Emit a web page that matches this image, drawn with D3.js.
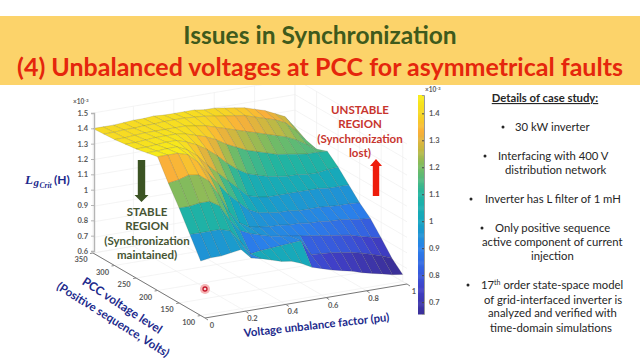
<!DOCTYPE html>
<html>
<head>
<meta charset="utf-8">
<script src="https://cdn.jsdelivr.net/npm/d3@7"></script>
<style>
    body { margin: 0; background: #fff; }
    svg { display: block; font-family: Lato, "Open Sans", sans-serif; }
</style>
</head>
<body>
<div id="chart"></div>
<script>
// Data (z values are x 10^-3 H)
const unbalance = [0, .05, .1, .15, .2, .25, .3, .35, .4, .45, .5, .55, .6, .65, .7, .75, .8, .85, .9, .95, 1];
const voltages = [350, 325, 300, 275, 250, 225, 200, 175, 150, 125, 100];

const z350 = [1.40,1.40,1.40,1.405,1.41,1.41,1.415,1.41,1.41,1.41,1.41,1.40,1.40,1.39,1.38,1.37,1.35,1.33,1.30,1.27,1.19];
const z325 = [1.405,1.405,1.41,1.41,1.415,1.415,1.42,1.42,1.42,1.415,1.41,1.40,1.39,1.38,1.37,1.35,1.33,1.31,1.28,1.22,1.15];
const z300 = [1.41,1.41,1.415,1.42,1.42,1.42,1.42,1.42,1.41,1.40,1.38,1.36,1.34,1.32,1.30,1.28,1.26,1.24,1.21,1.17,1.13];
const z275 = [1.42,1.42,1.425,1.43,1.43,1.43,1.42,1.40,1.38,1.35,1.31,1.28,1.25,1.23,1.21,1.19,1.18,1.17,1.16,1.16,1.156];
const z250 = [1.43,1.43,1.435,1.44,1.44,1.42,1.39,1.35,1.30,1.24,1.19,1.15,1.13,1.11,1.10,1.09,1.09,1.08,1.08,1.09,1.095];
const z225 = [1.445,1.445,1.45,1.45,1.42,1.37,1.30,1.24,1.18,1.12,1.06,1.04,1.03,1.03,1.03,1.03,1.03,1.03,1.02,1.02,1.02];
const z200 = [1.46,1.46,1.46,1.44,1.38,1.30,1.22,1.14,1.08,1.02,.99,.98,.97,.97,.96,.96,.96,.955,.95,.95,.945];
const z175 = [1.33,1.34,1.36,1.35,1.30,1.20,1.08,1.00,.96,.95,.94,.94,.93,.93,.92,.92,.91,.91,.90,.89,.885];
const z150 = [1.21,1.21,1.22,1.22,1.18,1.08,1.0,.97,.95,.93,.92,.91,.90,.89,.88,.87,.86,.85,.83,.815,.80];
const z125 = [1.08,1.08,1.08,1.08,1.06,.98,.89,.90,.905,.91,.915,.92,.82,.815,.81,.80,.79,.775,.755,.735,.71];
const z100 = [.95,.96,.96,.97,.98,.915,.90,.88,.86,.85,.825,.79,.77,.75,.735,.72,.70,.685,.67,.655,.645];
const surface = [z350, z325, z300, z275, z250, z225, z200, z175, z150, z125, z100];

// the teal facets in the front row do not follow their height
const tealColumns = [6, 7, 8, 9, 10];
const tealValue = 1.02;

const unbalanceTicks = [0, 0.2, 0.4, 0.6, 0.8, 1];
const voltageTicks = [350, 300, 250, 200, 150, 100];
const zTicks = [0.6, 0.7, 0.8, 0.9, 1, 1.1, 1.2, 1.3, 1.4, 1.5];
const colorbarTicks = [0.7, 0.8, 0.9, 1, 1.1, 1.2, 1.3, 1.4];

const colorStops = [0.65, 0.75, 0.82, 0.9, 1.0, 1.1, 1.2, 1.27, 1.33, 1.39, 1.47];
const colorValues = ["#3b2f96", "#4040c8", "#3560e0", "#2a80ea", "#14a6c0", "#22b5a0", "#78bc62", "#c8b840", "#fab03a", "#f6d426", "#f8ee18"];

const bulletLines = [
    ["30 kW inverter", 515, 127, 503],
    ["Interfacing with 400 V", 498, 156, 485],
    ["distribution network", 505, 170],
    ["Inverter has L filter of 1 mH", 485, 199, 471],
    ["Only positive sequence", 495, 228, 482],
    ["active component of current", 482, 242],
    ["injection", 531, 256],
    ["of grid-interfaced inverter is", 484, 300],
    ["analyzed and verified with", 488, 313],
    ["time-domain simulations", 490, 328]
];

let svg = d3.select("#chart").append("svg").attr("width", 640).attr("height", 360);

// Oblique projection, the three axes each add to the screen position
let uX = d3.scaleLinear().domain([0, 1]).range([0, 202]);
let uY = d3.scaleLinear().domain([0, 1]).range([0, -34]);
let vX = d3.scaleLinear().domain([90, 350]).range([0, -112]);
let vY = d3.scaleLinear().domain([90, 350]).range([0, -65]);
let zY = d3.scaleLinear().domain([0.6, 1.5]).range([0, -140]);
let color = d3.scaleLinear().domain(colorStops).range(colorValues).clamp(true);

function px(u, v) { return 205 + uX(u) + vX(v); }
function py(u, v, z) { return 318 + uY(u) + vY(v) + zY(z); }
let polygon = pts => "M" + pts.map(p => p.join(",")).join("L") + "Z";

// Walls and floor grid
let grid = svg.append("g").attr("fill", "none").attr("stroke", "#efefef").attr("stroke-width", 0.7);
zTicks.forEach(z => {
    grid.append("path").attr("d", polygon([[px(0, 350), py(0, 350, z)], [px(1, 350), py(1, 350, z)], [px(1, 90), py(1, 90, z)]]).replace("Z", ""));
});
unbalanceTicks.forEach(u => {
    grid.append("path").attr("d", polygon([[px(u, 90), py(u, 90, 0.6)], [px(u, 350), py(u, 350, 0.6)], [px(u, 350), py(u, 350, 1.5)]]).replace("Z", ""));
});
voltageTicks.forEach(v => {
    grid.append("path").attr("d", polygon([[px(0, v), py(0, v, 0.6)], [px(1, v), py(1, v, 0.6)], [px(1, v), py(1, v, 1.5)]]).replace("Z", ""));
});

// Surface facets, painted from the far corner to the near one
let facets = [];
for (let r = 0; r < voltages.length - 1; r++) {
    for (let c = unbalance.length - 2; c >= 0; c--) {
        let corners = [[r, c], [r, c + 1], [r + 1, c + 1], [r + 1, c]];
        let value = surface[r + 1][c];
        if (r === voltages.length - 2 && tealColumns.includes(c)) value = tealValue;
        facets.push({
            value: value,
            points: corners.map(([i, j]) => [px(unbalance[j], voltages[i]), py(unbalance[j], voltages[i], surface[i][j])])
        });
    }
}
svg.append("g").selectAll("path").data(facets).join("path")
    .attr("d", d => polygon(d.points))
    .attr("fill", d => color(d.value))
    .attr("stroke", "#3a3a20")
    .attr("stroke-opacity", 0.3)
    .attr("stroke-width", 0.5)
    .attr("stroke-linejoin", "round");

// Axes
let axisText = sel => sel.attr("font-size", 7.5).attr("font-weight", 700).attr("fill", "#5a5a5a").attr("font-family", "Lato, sans-serif");

let zAxis = d3.axisLeft(d3.scaleLinear().domain([0.6, 1.5]).range([251, 113])).tickValues(zTicks).tickFormat(d => d).tickSize(3).tickPadding(3);
let zAxisGroup = svg.append("g").attr("transform", "translate(94,0)").call(zAxis);
zAxisGroup.selectAll("path,line").attr("stroke", "#b5b5b5");
zAxisGroup.select("path").attr("stroke-width", 1.4);
zAxisGroup.selectAll("text").call(axisText);

let floorAxes = svg.append("g").attr("fill", "none").attr("stroke", "#777").attr("stroke-width", 1);
floorAxes.append("path").attr("d", polygon([[px(0, 350), py(0, 350, 0.6)], [px(0, 90), py(0, 90, 0.6)], [px(1, 90), py(1, 90, 0.6)]]).replace("Z", ""));

svg.append("g").selectAll("line").data(voltageTicks).join("line")
    .attr("x1", d => px(0, d)).attr("y1", d => py(0, d, 0.6))
    .attr("x2", d => px(0, d) - 3).attr("y2", d => py(0, d, 0.6) + 0.5)
    .attr("stroke", "#888");
svg.append("g").selectAll("text").data(voltageTicks).join("text")
    .attr("x", d => px(0, d) - 12).attr("y", d => py(0, d, 0.6) + 9)
    .attr("text-anchor", "middle").text(d => d).call(axisText);

svg.append("g").selectAll("line").data(unbalanceTicks).join("line")
    .attr("x1", d => px(d, 90)).attr("y1", d => py(d, 90, 0.6))
    .attr("x2", d => px(d, 90) + 3).attr("y2", d => py(d, 90, 0.6) + 2)
    .attr("stroke", "#888");
svg.append("g").selectAll("text").data(unbalanceTicks).join("text")
    .attr("x", d => px(d, 90) + 7).attr("y", d => py(d, 90, 0.6) + 10)
    .attr("text-anchor", "middle").text(d => d).call(axisText);

function exponentLabel(x, y) {
    let t = svg.append("text").attr("x", x).attr("y", y).call(axisText).attr("font-size", 6.5);
    t.append("tspan").text("\u00d710");
    t.append("tspan").attr("dy", -2).attr("font-size", 4.5).text("-3");
}
exponentLabel(73, 104);
exponentLabel(425, 92);

// Colorbar
let barScale = d3.scaleLinear().domain([0.656, 1.468]).range([314, 95]);
svg.append("g").selectAll("rect").data(d3.range(0.656, 1.468, 0.004)).join("rect")
    .attr("x", 418).attr("width", 6)
    .attr("y", d => barScale(d + 0.004)).attr("height", d => barScale(d) - barScale(d + 0.004) + 0.5)
    .attr("fill", d => color(d));
let barAxis = d3.axisRight(barScale).tickValues(colorbarTicks).tickFormat(d => d).tickSize(-2).tickPadding(5);
let barGroup = svg.append("g").attr("transform", "translate(424,0)").call(barAxis);
barGroup.select("path").attr("stroke", "#999");
barGroup.selectAll("line").attr("stroke", "#444");
barGroup.selectAll("text").call(axisText);

// Title banner
svg.append("rect").attr("x", 0).attr("y", 16).attr("width", 640).attr("height", 69).attr("fill", "#fcd36a");
svg.append("text").attr("x", 320).attr("y", 44).attr("text-anchor", "middle")
    .attr("font-size", 24.5).attr("font-weight", 700).attr("fill", "#3f5a1c")
    .text("Issues in Synchronization");
svg.append("text").attr("x", 320).attr("y", 76).attr("text-anchor", "middle")
    .attr("font-size", 25).attr("font-weight", 700).attr("fill", "#e5260c")
    .text("(4) Unbalanced voltages at PCC for asymmetrical faults");

// Region notes
function centredLines(lines, x, ys, fill) {
    svg.append("g").selectAll("text").data(lines).join("text")
        .attr("x", x).attr("y", (d, i) => ys[i]).attr("text-anchor", "middle")
        .attr("font-size", 11.5).attr("font-weight", 700).attr("fill", fill).text(d => d);
}
centredLines(["STABLE", "REGION", "(Synchronization", "maintained)"], 147, [216, 230, 245, 259], "#465533");
centredLines(["UNSTABLE", "REGION", "(Synchronization", "lost)"], 360, [114, 128, 143, 157], "#c8352e");

function arrow(x, y0, y1, shaft, head, fill) {
    let dir = y1 > y0 ? 1 : -1;
    let neck = y1 - dir * 7;
    svg.append("path").attr("fill", fill).attr("d", polygon([
        [x - shaft, y0], [x + shaft, y0], [x + shaft, neck], [x + head, neck],
        [x, y1], [x - head, neck], [x - shaft, neck]
    ]));
}
arrow(141.5, 160, 202, 3.7, 7, "#3b5323");
arrow(376, 196, 159, 3.2, 6, "#ee1c0c");

// Axis names
let axisName = "#1c2a8c";
let lg = svg.append("g").attr("fill", axisName).attr("font-weight", 700);
lg.append("text").attr("x", 25).attr("y", 184).attr("font-family", "Liberation Serif").attr("font-style", "italic").attr("font-size", 13).text("L");
lg.append("text").attr("x", 33.5).attr("y", 186).attr("font-family", "Liberation Serif").attr("font-style", "italic").attr("font-size", 11).text("g");
lg.append("text").attr("x", 39.5).attr("y", 188).attr("font-family", "Liberation Serif").attr("font-style", "italic").attr("font-size", 7.5).text("Crit");
lg.append("text").attr("x", 54).attr("y", 184).attr("font-size", 12).text("(H)");

function rotatedLabel(text, x, y, angle, size) {
    svg.append("text").attr("transform", `translate(${x},${y}) rotate(${angle})`)
        .attr("text-anchor", "middle").attr("font-size", size).attr("font-weight", 700)
        .attr("fill", axisName).text(text);
}
rotatedLabel("PCC voltage level", 120, 309, 33, 12);
rotatedLabel("(Positive sequence, Volts)", 111, 323, 32, 11.6);
rotatedLabel("Voltage unbalance factor (pu)", 317, 329, -6.3, 11.3);

// Pointer dot
svg.append("circle").attr("cx", 205).attr("cy", 289).attr("r", 5).attr("fill", "#f6b5b5");
svg.append("circle").attr("cx", 205).attr("cy", 289).attr("r", 2).attr("fill", "#f3d6d6").attr("stroke", "#c4162a").attr("stroke-width", 1.3);

// Case study details
let details = svg.append("g").attr("fill", "#262626").attr("font-size", 11.3);
details.append("text").attr("x", 545).attr("y", 102).attr("text-anchor", "middle")
    .attr("font-weight", 700).attr("text-decoration", "underline").text("Details of case study:");
bulletLines.forEach(line => {
    details.append("text").attr("x", line[1]).attr("y", line[2] + 4).text(line[0]);
    if (line[3]) details.append("circle").attr("cx", line[3]).attr("cy", line[2]).attr("r", 1.5);
});
let seventeenth = details.append("text").attr("x", 481).attr("y", 289);
seventeenth.append("tspan").text("17");
seventeenth.append("tspan").attr("dy", -4).attr("font-size", 7).text("th");
seventeenth.append("tspan").attr("dy", 4).text(" order state-space model");
details.append("circle").attr("cx", 468).attr("cy", 285).attr("r", 1.5);
</script>
</body>
</html>
